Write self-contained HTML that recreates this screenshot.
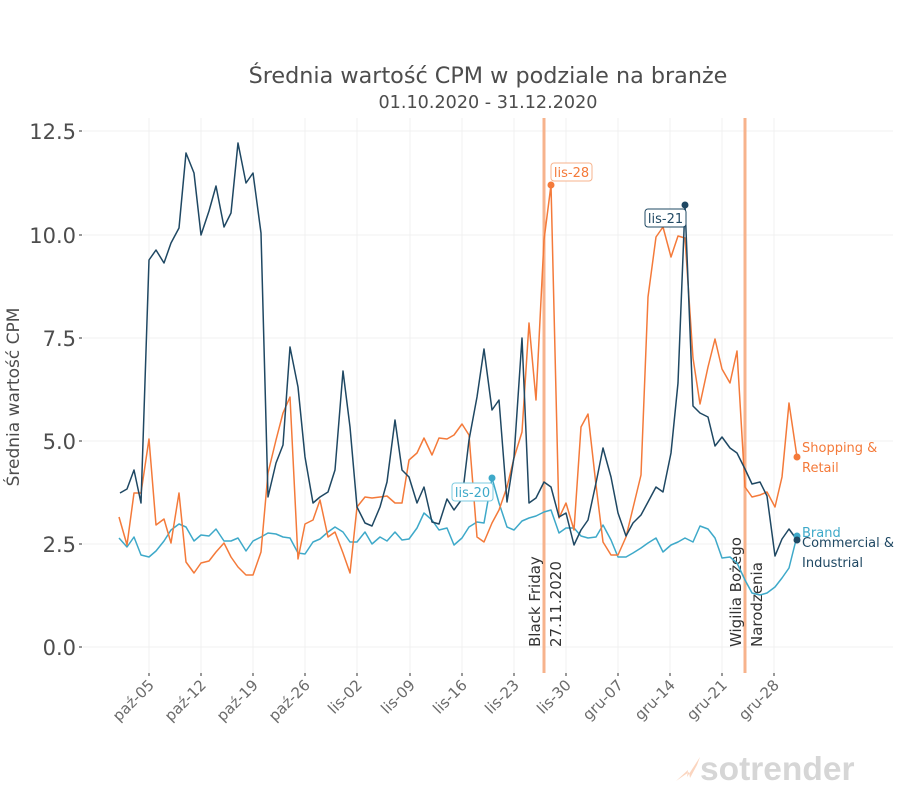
<!DOCTYPE html>
<html><head><meta charset="utf-8"><style>
html,body{margin:0;padding:0;background:#fff;}
svg{display:block;font-family:"DejaVu Sans","Liberation Sans",sans-serif;}
</style></head><body>
<svg width="900" height="800" viewBox="0 0 900 800" xmlns="http://www.w3.org/2000/svg">
<rect width="900" height="800" fill="#fff"/>
<g stroke="#f0f0f0" stroke-width="1">
<line x1="83" y1="131" x2="893" y2="131"/><line x1="83" y1="235" x2="893" y2="235"/><line x1="83" y1="338" x2="893" y2="338"/><line x1="83" y1="441" x2="893" y2="441"/><line x1="83" y1="544" x2="893" y2="544"/><line x1="83" y1="647" x2="893" y2="647"/>
<line x1="149" y1="118" x2="149" y2="673"/><line x1="201" y1="118" x2="201" y2="673"/><line x1="253" y1="118" x2="253" y2="673"/><line x1="305" y1="118" x2="305" y2="673"/><line x1="357" y1="118" x2="357" y2="673"/><line x1="410" y1="118" x2="410" y2="673"/><line x1="462" y1="118" x2="462" y2="673"/><line x1="514" y1="118" x2="514" y2="673"/><line x1="566" y1="118" x2="566" y2="673"/><line x1="618" y1="118" x2="618" y2="673"/><line x1="670" y1="118" x2="670" y2="673"/><line x1="722" y1="118" x2="722" y2="673"/><line x1="774" y1="118" x2="774" y2="673"/>
</g>
<g stroke="#333" stroke-width="1">
<line x1="149" y1="673" x2="149" y2="676"/><line x1="201" y1="673" x2="201" y2="676"/><line x1="253" y1="673" x2="253" y2="676"/><line x1="305" y1="673" x2="305" y2="676"/><line x1="357" y1="673" x2="357" y2="676"/><line x1="410" y1="673" x2="410" y2="676"/><line x1="462" y1="673" x2="462" y2="676"/><line x1="514" y1="673" x2="514" y2="676"/><line x1="566" y1="673" x2="566" y2="676"/><line x1="618" y1="673" x2="618" y2="676"/><line x1="670" y1="673" x2="670" y2="676"/><line x1="722" y1="673" x2="722" y2="676"/><line x1="774" y1="673" x2="774" y2="676"/>
<line x1="79" y1="131" x2="82" y2="131"/><line x1="79" y1="235" x2="82" y2="235"/><line x1="79" y1="338" x2="82" y2="338"/><line x1="79" y1="441" x2="82" y2="441"/><line x1="79" y1="544" x2="82" y2="544"/><line x1="79" y1="647" x2="82" y2="647"/>
</g>
<g font-size="21" fill="#4d4d4d" text-anchor="end">
<text x="76" y="139">12.5</text><text x="76" y="243">10.0</text><text x="76" y="346">7.5</text><text x="76" y="449">5.0</text><text x="76" y="552">2.5</text><text x="76" y="655">0.0</text>
</g>
<text transform="translate(19,397) rotate(-90)" font-size="17" fill="#4d4d4d" text-anchor="middle">Średnia wartość CPM</text>
<g font-size="15" fill="#6b6b6b" text-anchor="end">
<text transform="translate(155,686) rotate(-45)">paź-05</text>
<text transform="translate(207,686) rotate(-45)">paź-12</text>
<text transform="translate(259,686) rotate(-45)">paź-19</text>
<text transform="translate(311,686) rotate(-45)">paź-26</text>
<text transform="translate(363,686) rotate(-45)">lis-02</text>
<text transform="translate(416,686) rotate(-45)">lis-09</text>
<text transform="translate(468,686) rotate(-45)">lis-16</text>
<text transform="translate(520,686) rotate(-45)">lis-23</text>
<text transform="translate(572,686) rotate(-45)">lis-30</text>
<text transform="translate(624,686) rotate(-45)">gru-07</text>
<text transform="translate(676,686) rotate(-45)">gru-14</text>
<text transform="translate(728,686) rotate(-45)">gru-21</text>
<text transform="translate(780,686) rotate(-45)">gru-28</text>
</g>
<text x="488" y="83" font-size="22.3" fill="#4d4d4d" text-anchor="middle">Średnia wartość CPM w podziale na branże</text>
<text x="488" y="108" font-size="17.6" fill="#4d4d4d" text-anchor="middle">01.10.2020 - 31.12.2020</text>
<line x1="544" y1="118" x2="544" y2="673" stroke="#f7b38c" stroke-width="3"/>
<line x1="745" y1="118" x2="745" y2="673" stroke="#f7b38c" stroke-width="3"/>
<g font-size="15" fill="#333">
<text transform="translate(540,647) rotate(-90)">Black Friday</text>
<text transform="translate(561,647) rotate(-90)">27.11.2020</text>
<text transform="translate(741,647) rotate(-90)">Wigilia Bożego</text>
<text transform="translate(762,647) rotate(-90)">Narodzenia</text>
</g>
<g fill="none" stroke-width="1.5" stroke-linejoin="round">
<polyline stroke="#3ea9c9" points="119,538 127,547 134,537 141,555 149,557 156,551 164,541 171,530 179,524 186,527 194,541 201,535 209,536 216,529 224,541 231,541 238,538 246,551 253,541 261,537 268,533 276,534 283,537 290,538 298,553 305,554 313,542 320,539 328,532 335,527 343,532 350,542 357,542 365,532 372,544 380,537 387,541 395,532 402,540 409,539 417,528 424,513 432,520 439,530 447,528 454,545 462,538 469,527 477,522 484,523 492,478 499,503 507,527 514,530 522,521 529,518 536,516 544,512 551,510 559,533 566,528 574,528 581,536 588,538 596,537 603,525 611,540 618,557 626,557 633,553 641,548 648,543 656,538 663,552 671,545 678,542 685,538 693,542 700,526 708,529 715,538 722,558 730,557 737,563 745,580 752,593 760,595 767,593 775,587 782,578 789,568 797,536"/>
<polyline stroke="#f47a3a" points="119,517 127,545 134,493 141,493 149,439 156,525 164,519 171,543 179,493 186,562 194,573 201,563 209,561 216,552 224,543 231,557 238,567 246,575 253,575 261,552 268,473 276,440 283,413 290,397 298,559 305,524 313,520 320,500 328,537 335,532 343,553 350,573 357,507 365,497 372,498 380,497 387,496 395,503 402,503 409,460 417,453 424,438 432,455 439,438 447,439 454,435 462,424 469,435 477,537 484,542 492,523 499,510 507,487 514,458 522,432 529,323 536,400 544,240 551,185 559,518 566,503 574,530 581,427 588,414 596,485 603,542 611,555 618,555 626,537 633,508 641,475 648,297 656,237 663,227 671,257 678,236 685,238 693,358 700,404 708,367 715,339 722,369 730,383 737,351 745,487 752,497 760,495 767,492 775,507 782,477 789,403 797,457"/>
<polyline stroke="#1f4863" points="120,493 127,489 134,470 141,503 149,260 156,250 164,263 171,243 179,228 186,153 194,173 201,235 209,211 216,186 224,227 231,213 238,143 246,183 253,173 261,233 268,497 276,463 283,445 290,347 298,387 305,457 313,503 320,497 328,492 335,470 343,371 350,427 357,507 365,523 372,526 380,507 387,482 395,420 402,470 409,477 417,503 424,487 432,522 439,524 447,499 454,510 462,499 469,440 477,397 484,349 492,410 499,400 507,502 514,457 522,338 529,503 536,498 544,482 551,487 559,517 566,513 574,545 581,530 588,520 596,483 603,448 611,477 618,513 626,536 633,523 641,515 648,502 656,487 663,492 671,453 678,383 685,205 693,406 700,413 708,417 715,446 722,437 730,448 737,453 745,469 752,484 760,482 767,496 775,556 782,539 789,529 797,540"/>
</g>
<circle cx="551" cy="185" r="3.5" fill="#f47a3a"/>
<circle cx="685" cy="205" r="3.5" fill="#1f4863"/>
<circle cx="492" cy="478" r="3.5" fill="#3ea9c9"/>
<circle cx="797" cy="457" r="3.5" fill="#f47a3a"/>
<circle cx="797" cy="536" r="3.5" fill="#3ea9c9"/>
<circle cx="797" cy="540" r="3.5" fill="#1f4863"/>
<rect x="551" y="163" width="41" height="18" rx="3" fill="#fff" stroke="#f7b38c"/>
<text x="571.5" y="177" font-size="13" fill="#f47a3a" text-anchor="middle">lis-28</text>
<rect x="645" y="209" width="41" height="18" rx="3" fill="#fff" stroke="#1f4863"/>
<text x="665.5" y="223" font-size="13" fill="#1f4863" text-anchor="middle">lis-21</text>
<rect x="452" y="483" width="41" height="18" rx="3" fill="#fff" stroke="#7ccbe0"/>
<text x="472.5" y="497" font-size="13" fill="#3ea9c9" text-anchor="middle">lis-20</text>
<g font-size="13">
<text x="802" y="452" fill="#f47a3a">Shopping &amp;</text>
<text x="802" y="472" fill="#f47a3a">Retail</text>
<text x="802" y="537" fill="#3ea9c9">Brand</text>
<text x="802" y="547" fill="#1f4863">Commercial &amp;</text>
<text x="802" y="567" fill="#1f4863">Industrial</text>
</g>
<path d="M676,781 L688,770 L687,777 L700,757 L697,765 L690,778 L689,772 Z" fill="#fbd5bf"/>
<text x="700" y="780" font-size="33.5" font-weight="bold" fill="#d6d6d6" font-family="Liberation Sans, sans-serif">sotrender</text>
</svg>
</body></html>
